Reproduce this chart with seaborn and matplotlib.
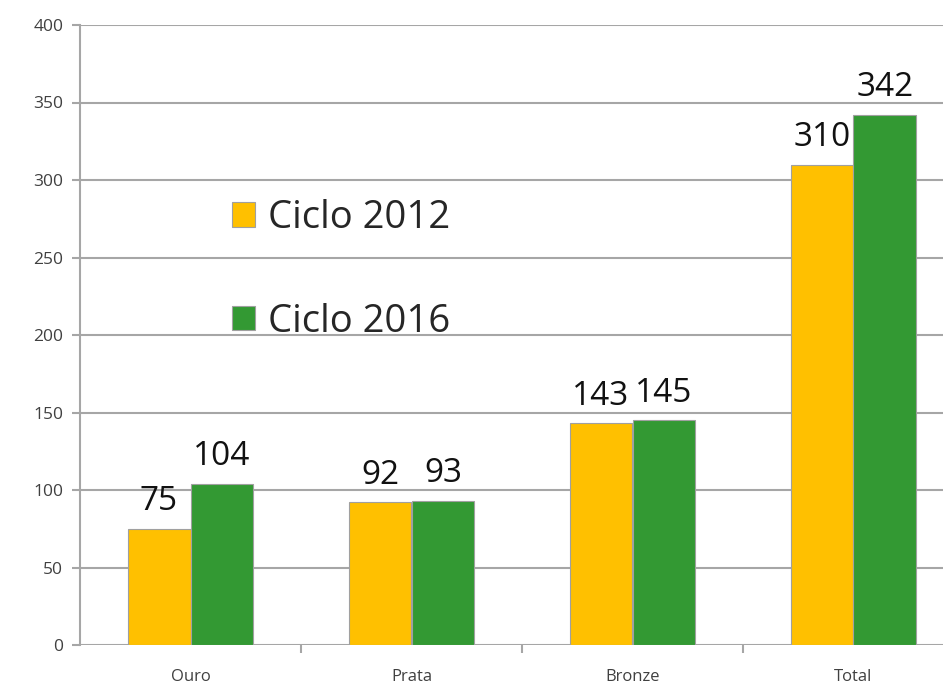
import matplotlib
matplotlib.use("Agg")
import matplotlib.pyplot as plt
import seaborn as sns
import pandas as pd
import numpy as np

categories = ["Ouro", "Prata", "Bronze", "Total"]
series_names = ["Ciclo 2012", "Ciclo 2016"]
ciclo_2012 = [75, 92, 143, 310]
ciclo_2016 = [104, 93, 145, 342]
yticks = [0, 50, 100, 150, 200, 250, 300, 350, 400]

df = pd.DataFrame({
    "cat": categories * 2,
    "serie": [series_names[0]] * 4 + [series_names[1]] * 4,
    "val": ciclo_2012 + ciclo_2016,
})

sns.set_theme(style="white")
plt.rcParams['font.family'] = ['Open Sans', 'DejaVu Sans']

fig = plt.figure(figsize=(9.43, 6.83), dpi=100)
ax = fig.add_axes([80/943, 1-645/683, 884/943, 620/683])

palette = {"Ciclo 2012": "#FFC000", "Ciclo 2016": "#339933"}
sns.barplot(data=df, x="cat", y="val", hue="serie", palette=palette,
            width=0.57, ax=ax, edgecolor="#A0A0A0", linewidth=0.8,
            saturation=1, legend=False)

ax.set_xlim(-0.5, 3.5)
ax.set_ylim(0, 400)
ax.set_yticks(yticks)
ax.set_yticklabels([str(v) for v in yticks])
gridc = "#A6A6A6"
ax.yaxis.grid(True, color=gridc, linewidth=1.5)
ax.set_axisbelow(True)
for s in ["top", "right", "bottom"]:
    ax.spines[s].set_visible(False)
ax.spines["left"].set_color(gridc)
ax.spines["left"].set_linewidth(1.5)
ax.set_xlabel("")
ax.set_ylabel("")

ax.set_xticks(range(len(categories)))
ax.set_xticklabels(categories)
ax.set_xticks([0.5, 1.5, 2.5, 3.5], minor=True)
ax.tick_params(axis="x", which="major", length=0, pad=17, labelsize=12, labelcolor="#404040")
ax.tick_params(axis="x", which="minor", length=6, width=1.5, color=gridc, direction="out", bottom=True)
ax.tick_params(axis="y", length=6, width=1.5, color=gridc, direction="out", left=True,
               labelsize=12.5, labelcolor="#404040", pad=6)

for cont in ax.containers:
    for bar in cont:
        h = bar.get_height()
        ax.annotate(f"{h:.0f}", (bar.get_x() + bar.get_width()/2, h),
                    xytext=(0, 13.5), textcoords="offset points",
                    ha="center", va="baseline", fontsize=24, color="#111111")

from matplotlib.patches import Patch
handles = [Patch(facecolor=palette[n], edgecolor="#A0A0A0", linewidth=0.8) for n in series_names]
ax.legend(handles, series_names, loc="upper left", bbox_to_anchor=(152/884, 1-174/620),
          frameon=False, fontsize=27.5, handlelength=0.6, handleheight=0.6,
          handletextpad=0.35, labelspacing=1.72, borderpad=0, borderaxespad=0)

fig.savefig("out.png", dpi=100)
